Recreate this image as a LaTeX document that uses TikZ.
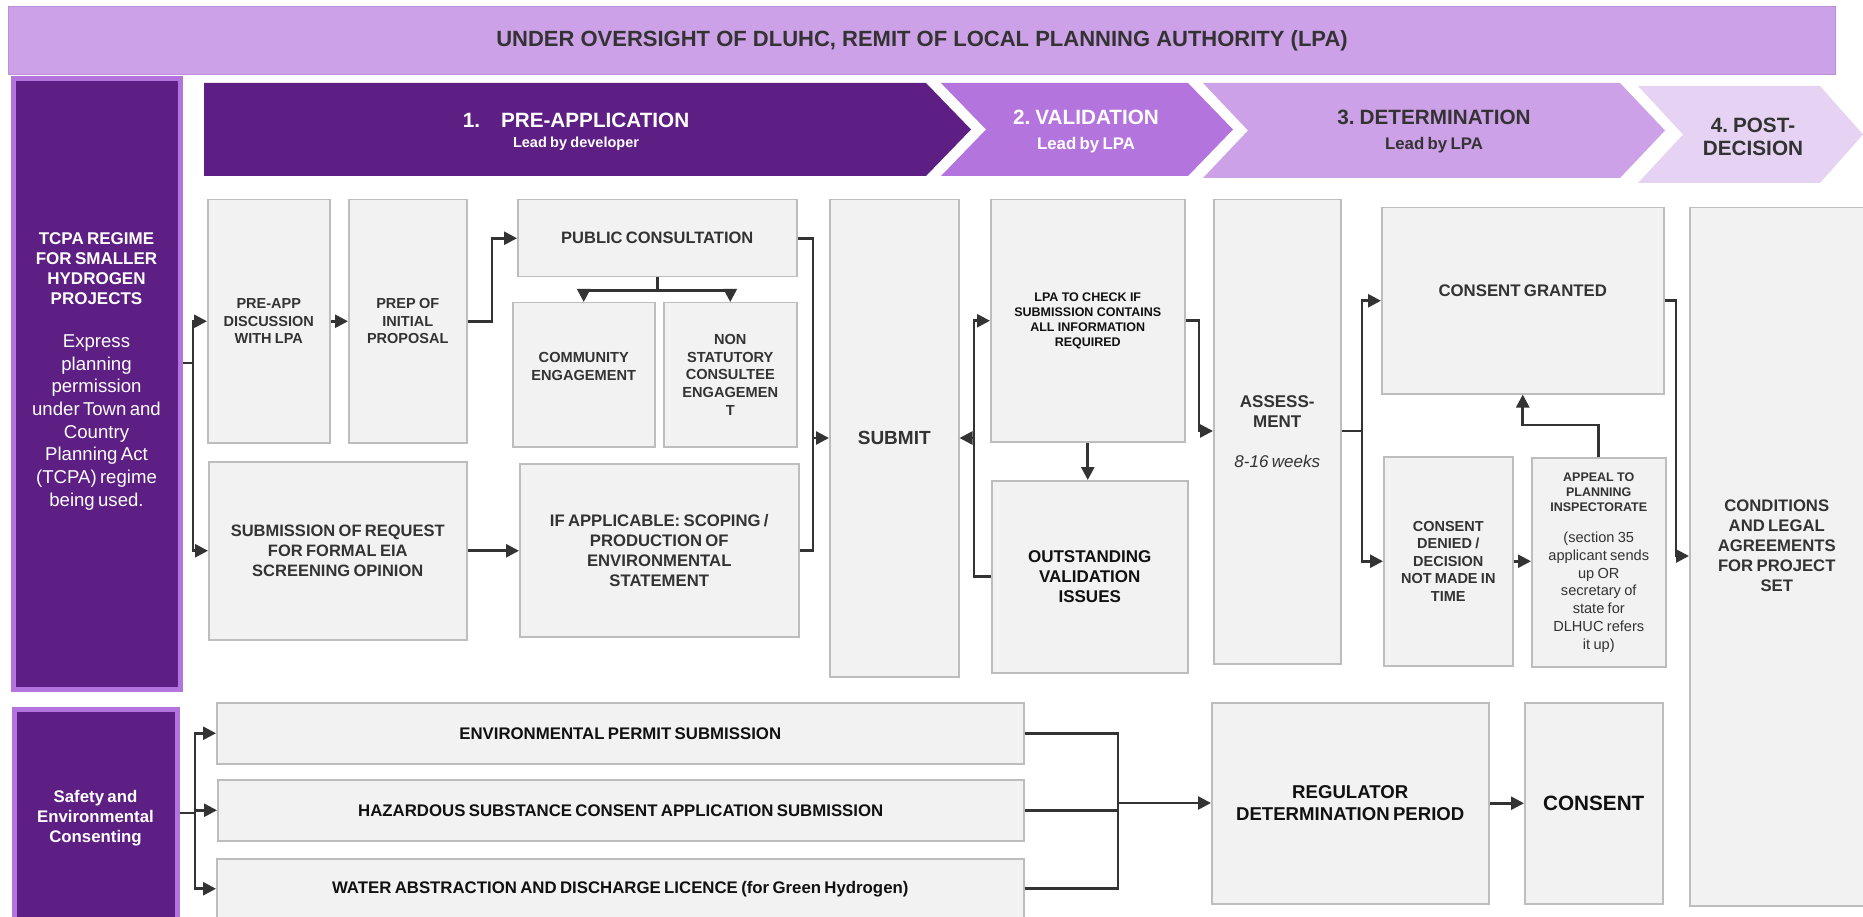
\documentclass[tikz,border=0pt]{standalone}
\usepackage{fontspec}
\setmainfont{Liberation Sans}
\usetikzlibrary{arrows.meta,calc}
\definecolor{banfill}{HTML}{CDA1E8}
\definecolor{banline}{HTML}{BB8FD9}
\definecolor{dpurple}{HTML}{5E1F84}
\definecolor{mpurple}{HTML}{B474DE}
\definecolor{lpurple}{HTML}{CDA1E8}
\definecolor{vlpurple}{HTML}{E6D3F4}
\definecolor{boxfill}{HTML}{F2F2F2}
\definecolor{boxline}{HTML}{BDBDBD}
\definecolor{txt}{HTML}{333333}
\definecolor{txtb}{HTML}{111111}
\definecolor{conn}{HTML}{333333}
\newcommand\fsz[2]{\fontsize{#1}{#2}\selectfont}
\begin{document}
\begin{tikzpicture}[x=1pt,y=-1pt,
  gbox/.style={draw=boxline, fill=boxfill, line width=1.5pt, inner sep=0pt, anchor=north west, align=center, text=txt, font=\bfseries},
  sidebox/.style={draw=mpurple, fill=dpurple, line width=5pt, inner sep=0pt, anchor=north west, align=center, text=white, font=\bfseries},
  tlabel/.style={inner sep=0pt, align=center, font=\bfseries, text=txt},
  conline/.style={draw=conn, line width=2.6pt},
  arr/.style={conline, -{Triangle[length=13pt,width=13pt]}}]
\useasboundingbox (0,0) rectangle (1863,917);

% banner
\node[draw=banline, fill=banfill, line width=1pt, anchor=north west, minimum width=1827, minimum height=68, inner sep=0pt, text=txt, font=\bfseries\fsz{22}{26}] (banner) at (8,6) {UNDER OVERSIGHT OF DLUHC, REMIT OF LOCAL PLANNING AUTHORITY (LPA)};

% side boxes
\node[sidebox, minimum width=167, minimum height=610] (tcpa) at (10.5,76.5) {};
\node[tlabel, text=white, text width=160, yshift=12.5pt] (tcpaT) at (tcpa.center)
 {{\bfseries\fsz{17}{20}TCPA REGIME\\FOR SMALLER\\HYDROGEN\\PROJECTS\par}\vspace{20pt}{\mdseries\fsz{18.6}{22.7}Express\\planning\\permission\\under Town and\\Country\\Planning Act\\(TCPA) regime\\being used.\par}};
\node[sidebox, minimum width=163, minimum height=218, text width=155] (safety) at (11.5,706.5) {\fsz{16.8}{20}Safety and\\Environmental\\Consenting\par};

% chevrons
\fill[dpurple] (204,83) -- (926,83) -- (971,129.5) -- (926,176) -- (204,176) -- cycle;
\fill[mpurple] (941,83) -- (1188,83) -- (1233,129.5) -- (1188,176) -- (941,176) -- (986,129.5) -- cycle;
\fill[lpurple] (1203,83) -- (1620,83) -- (1665,130.5) -- (1620,178) -- (1203,178) -- (1248,130.5) -- cycle;
\fill[vlpurple] (1638,86) -- (1820,86) -- (1863,134.5) -- (1820,183) -- (1638,183) -- (1683,134.5) -- cycle;
\node[tlabel, text=white, text width=400] (c1t) at (576,132) {{\fsz{20.7}{24}1.\hspace{21pt}PRE-APPLICATION\par}{\fsz{14.5}{20}Lead by developer\par}};
\node[tlabel, text=white, text width=230] (c2t) at (1086,132) {{\fsz{20.7}{24}2. VALIDATION\par}{\fsz{16.8}{25}Lead by LPA\par}};
\node[tlabel, text width=380] (c3t) at (1434,132) {{\fsz{20.7}{24}3. DETERMINATION\par}{\fsz{16.8}{25}Lead by LPA\par}};
\node[tlabel, text width=170] (c4t) at (1753,137) {\fsz{20.7}{23.5}4. POST-\\DECISION\par};

% process boxes
\node[gbox, minimum width=122, minimum height=243, text width=114] (preapp) at (207,199) {\fsz{14.5}{17.5}PRE-APP\\DISCUSSION\\WITH LPA\par};
\node[gbox, minimum width=118, minimum height=243, text width=110] (prep) at (348,199) {\fsz{14.5}{17.5}PREP OF\\INITIAL\\PROPOSAL\par};
\node[gbox, minimum width=258, minimum height=178, text width=250] (eia) at (208,461) {\fsz{16.5}{20}SUBMISSION OF REQUEST\\FOR FORMAL EIA\\SCREENING OPINION\par};
\node[gbox, minimum width=279, minimum height=77, text width=270] (pubcons) at (517,199) {\fsz{16.5}{20}PUBLIC CONSULTATION\par};
\node[gbox, minimum width=142, minimum height=144] (community) at (512,302) {};
\node[tlabel, text width=134, yshift=8pt] (communityT) at (community.center) {\fsz{14.6}{17.7}COMMUNITY\\ENGAGEMENT\par};
\node[gbox, minimum width=133, minimum height=144, text width=126] (nonstat) at (663,302) {\fsz{14.6}{17.7}NON\\STATUTORY\\CONSULTEE\\ENGAGEMEN\\T\par};
\node[gbox, minimum width=279, minimum height=173, text width=270] (ifapp) at (519,463) {\fsz{16.7}{20}IF APPLICABLE: SCOPING /\\PRODUCTION OF\\ENVIRONMENTAL\\STATEMENT\par};
\node[gbox, minimum width=129, minimum height=477, text width=120] (submit) at (829,199) {\fsz{19}{22}SUBMIT\par};
\node[gbox, text=txtb, minimum width=194, minimum height=242, text width=186] (lpacheck) at (990,199) {\fsz{12.5}{15}LPA TO CHECK IF\\SUBMISSION CONTAINS\\ALL INFORMATION\\REQUIRED\par};
\node[gbox, text=txtb, minimum width=196, minimum height=192, text width=188] (outstanding) at (991,480) {\fsz{17}{20}OUTSTANDING\\VALIDATION\\ISSUES\par};
\node[gbox, minimum width=127, minimum height=464, text width=119] (assess) at (1213,199) {\fsz{17}{20}ASSESS-\\MENT\\[20pt]{\mdseries\itshape 8-16 weeks}\par};
\node[gbox, minimum width=282, minimum height=186] (granted) at (1381,207) {};
\node[tlabel, text width=270, yshift=10pt] (grantedT) at (granted.center) {\fsz{16.8}{20}CONSENT GRANTED\par};
\node[gbox, minimum width=129, minimum height=209, text width=122] (denied) at (1383,456) {\fsz{14.5}{17.5}CONSENT\\DENIED /\\DECISION\\NOT MADE IN\\TIME\par};
\node[gbox, minimum width=134, minimum height=209, text width=128] (appeal) at (1531,457)
 {{\fsz{12.5}{15}APPEAL TO\\PLANNING\\INSPECTORATE\par}\vspace{14pt}{\mdseries\fsz{14.6}{17.7}(section 35\\applicant sends\\up OR\\secretary of\\state for\\DLHUC refers\\it up)\par}};
\node[gbox, minimum width=174, minimum height=698] (conditions) at (1689,207) {};
\node[tlabel, text width=166, yshift=11pt] (conditionsT) at (conditions.center) {\fsz{16.7}{20}CONDITIONS\\AND LEGAL\\AGREEMENTS\\FOR PROJECT\\SET\par};

% bottom row
\node[gbox, text=txtb, minimum width=807, minimum height=61, text width=799] (env) at (216,702) {\fsz{16.8}{20}ENVIRONMENTAL PERMIT SUBMISSION\par};
\node[gbox, text=txtb, minimum width=806, minimum height=61, text width=798] (haz) at (217,779) {\fsz{16.8}{20}HAZARDOUS SUBSTANCE CONSENT APPLICATION SUBMISSION\par};
\node[gbox, text=txtb, minimum width=807, minimum height=60, text width=799] (water) at (216,858) {\fsz{16.8}{20}WATER ABSTRACTION AND DISCHARGE LICENCE (for Green Hydrogen)\par};
\node[gbox, text=txtb, minimum width=277, minimum height=201, text width=269] (reg) at (1211,702) {\fsz{18.6}{22}REGULATOR\\DETERMINATION PERIOD\par};
\node[gbox, text=txtb, minimum width=138, minimum height=201, text width=130] (consent) at (1524,702) {\fsz{20.7}{24}CONSENT\par};

% connectors
\coordinate (jA) at (193,363);
\draw[conline] (tcpa.east |- jA) -- (jA);
\draw[arr] (jA) |- (preapp.west);
\draw[arr] (jA) |- (eia.west);
\draw[arr] (preapp.east) -- (prep.west);
\coordinate (jB) at (492,300);
\draw[arr] (prep.east) -| (jB) |- (pubcons.west);
\draw[arr] (pubcons.south) -- ++(0,13) -| (community.north);
\draw[arr] (pubcons.south) -- ++(0,13) -| (nonstat.north);
\draw[arr] (eia.east) -- (ifapp.west |- eia.east);
\coordinate (jD) at (813,438);
\draw[arr] (pubcons.east) -| (jD) -- (submit.west |- jD);
\draw[conline] (ifapp.east) -| (jD);
\coordinate (jE) at (974,438);
\draw[arr] (outstanding.west) -| (jE) |- (lpacheck.west);
\draw[arr] (jE) -- (submit.east |- jE);
\draw[arr] (lpacheck.south) -- (lpacheck.south |- outstanding.north);
\coordinate (jF) at (1199,431);
\draw[arr] (lpacheck.east) -| (jF) -- (assess.west |- jF);
\coordinate (jG) at (1362,431);
\draw[conline] (assess.east |- jG) -- (jG);
\draw[arr] (jG) |- (granted.west);
\draw[arr] (jG) |- (denied.west);
\draw[arr] (denied.east) -- (appeal.west |- denied.east);
\draw[arr] (appeal.north) -- ++(0,-32) -| (granted.south);
\coordinate (jH) at (1676,556);
\draw[arr] (granted.east) -| (jH) -- (conditions.west |- jH);
\coordinate (jI) at (195,813);
\draw[conline] (safety.east |- jI) -- (jI);
\draw[arr] (jI) |- (env.west);
\draw[arr] (jI) |- (haz.west);
\draw[arr] (jI) |- (water.west);
\coordinate (jJ) at (1118,803);
\draw[conline] (env.east) -| (jJ);
\draw[conline] (haz.east) -| (jJ);
\draw[conline] (water.east) -| (jJ);
\draw[arr] (jJ) -- (reg.west |- jJ);
\draw[arr] (reg.east) -- (consent.west);
\end{tikzpicture}
\end{document}
